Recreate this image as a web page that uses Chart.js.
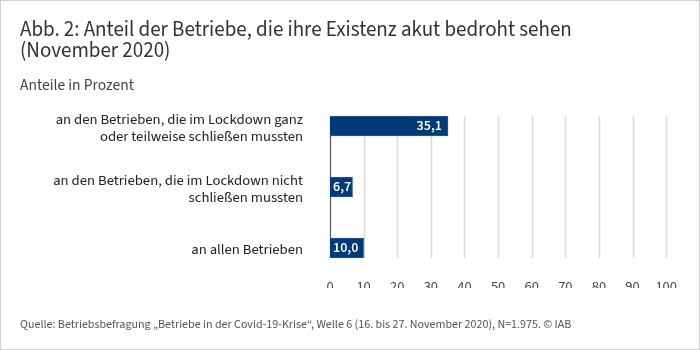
<!DOCTYPE html>
<html>
<head>
<meta charset="utf-8">
<script src="https://cdn.jsdelivr.net/npm/chart.js@4"></script>
<style>
  html, body { margin: 0; padding: 0; background: #fff; }
  #wrap { position: relative; width: 700px; height: 350px; box-sizing: border-box; border: 1px solid #cfcfcf; overflow: hidden; font-family: "Source Sans 3", Lato, sans-serif; }
  #chart { position: absolute; left: -1px; top: -1px; }
  .txt { position: absolute; left: 19px; white-space: nowrap; }
  .title { color: #333; }
  #sub { color: #444; }
  #foot { color: #555; }
</style>
</head>
<body>
<div id="wrap">
  <canvas id="chart" width="700" height="350"></canvas>
  <div class="txt title" id="t1">Abb. 2: Anteil der Betriebe, die ihre Existenz akut bedroht sehen</div>
  <div class="txt title" id="t2">(November 2020)</div>
  <div class="txt" id="sub">Anteile in Prozent</div>
  <div class="txt" id="foot">Quelle: Betriebsbefragung „Betriebe in der Covid-19-Krise“, Welle 6 (16. bis 27. November 2020), N=1.975. © IAB</div>
</div>
<script>
const categories = [
    ["an den Betrieben, die im Lockdown ganz", "oder teilweise schließen mussten"],
    ["an den Betrieben, die im Lockdown nicht", "schließen mussten"],
    "an allen Betrieben"
];
const values = [35.1, 6.7, 10.0];
const xTicks = [0, 10, 20, 30, 40, 50, 60, 70, 80, 90, 100];

const FONT = "'Source Sans 3', Lato, sans-serif";
const fmt = v => v.toFixed(1).replace(".", ",");

// size the heading texts to the widths of the original, place them by baseline
const mctx = document.createElement("canvas").getContext("2d");
function place(id, width, baseline, sizeOverride) {
    const el = document.getElementById(id);
    mctx.font = "20px " + FONT;
    const size = sizeOverride || 20 * width / mctx.measureText(el.textContent).width;
    el.style.fontSize = size + "px";
    el.style.lineHeight = (size * 1.424) + "px";
    el.style.top = (baseline - 1 - size * 1.024) + "px";
    return size;
}
const tSize = place("t1", 552, 36.5);
place("t2", 0, 57.5, tSize);
place("sub", 114, 90);
place("foot", 552, 328);

// vertical grid, a bit taller than the band of bars
const gridPlugin = {
    id: "grid",
    beforeDatasetsDraw(chart) {
        const { ctx, chartArea, scales } = chart;
        const top = chartArea.top - 10, bottom = chartArea.bottom + 10;
        ctx.save();
        xTicks.forEach(t => {
            const x = Math.round(scales.x.getPixelForValue(t)) + 0.5;
            ctx.beginPath();
            ctx.strokeStyle = t === 0 ? "#595959" : "#d9d9d9";
            ctx.lineWidth = t === 0 ? 1.2 : 1.5;
            ctx.moveTo(x, top);
            ctx.lineTo(x, bottom);
            ctx.stroke();
        });
        ctx.restore();
    }
};

const labelPlugin = {
    id: "barLabels",
    afterDatasetsDraw(chart) {
        const { ctx, chartArea } = chart;
        ctx.save();
        ctx.fillStyle = "#fff";
        ctx.font = "600 14px " + FONT;
        ctx.textAlign = "right";
        ctx.textBaseline = "middle";
        chart.getDatasetMeta(0).data.forEach((bar, i) => {
            const txt = fmt(values[i]);
            const w = ctx.measureText(txt).width;
            const x = Math.max(bar.x - 6, chartArea.left + 3 + w);
            ctx.fillText(txt, x, bar.y + 1);
        });
        ctx.restore();
    }
};

new Chart(document.getElementById("chart"), {
    type: "bar",
    data: {
        labels: categories,
        datasets: [{
            data: values,
            backgroundColor: "#003a77",
            borderColor: "#2f5d91",
            borderWidth: 1,
            borderSkipped: "left",
            barThickness: 20,
            clip: false
        }]
    },
    options: {
        indexAxis: "y",
        responsive: false,
        animation: false,
        layout: { padding: { top: 126, bottom: 62, right: 26, left: 0 } },
        plugins: {
            legend: { display: false },
            tooltip: { enabled: false }
        },
        scales: {
            x: {
                min: 0,
                max: 100,
                afterBuildTicks: s => { s.ticks = xTicks.map(v => ({ value: v })); },
                afterFit: s => { s.height = 40; },
                grid: { display: false },
                border: { display: false },
                ticks: {
                    padding: 23,
                    color: "#444",
                    font: { family: FONT, size: 14.5 }
                }
            },
            y: {
                offset: false,
                afterFit: s => { s.width = 330; },
                grid: { display: false },
                border: { display: false },
                ticks: {
                    padding: 19,
                    labelOffset: 3,
                    color: "#222",
                    font: { family: FONT, size: 14.7, lineHeight: "17px" }
                }
            }
        }
    },
    plugins: [gridPlugin, labelPlugin]
});
</script>
</body>
</html>
